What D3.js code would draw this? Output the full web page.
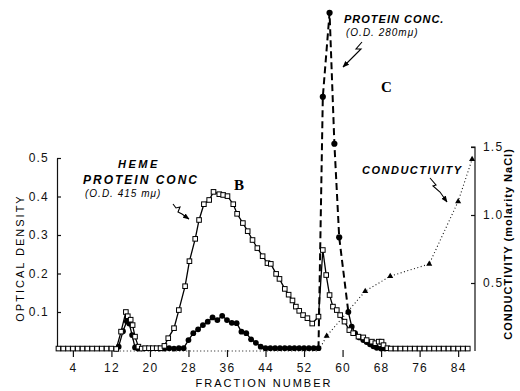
<!DOCTYPE html>
<html><head><meta charset="utf-8">
<script src="https://cdn.jsdelivr.net/npm/d3@7"></script>
<style>body{margin:0;background:#fff} svg{display:block}</style>
</head><body><svg id="c" width="520" height="391"></svg>
<script>
// ---- data ----
const fractionTicks = [4, 12, 20, 28, 36, 44, 52, 60, 68, 76, 84];
const densityTicks = [0.1, 0.2, 0.3, 0.4, 0.5];
const conductivityTicks = [0.5, 1.0, 1.5];

// Heme protein (O.D. 415 mμ) – open squares
const hemeFrac = [1,2,3,4,5,6,7,8,9,10,11,12,13,14,15,15.4,16,16.4,16.9,17.6,18.3,19,19.8,20.6,21.4,22.2,23,23.8,25,26,27.3,28.2,29.4,30.2,31.2,32.3,33.2,34.4,35.2,36.1,37.3,38.1,39.3,40.3,41.3,42.3,43.4,44.4,45.1,46.2,46.9,48,48.8,49.6,50.3,51,51.8,52.7,53.7,55,55.9,56.6,57.3,58,58.8,59.5,60.4,61.4,62.2,63.3,64.3,65,66.1,66.8,67.5,68.1,68.5,69.3,70,71,72,73,74,75,76,77,78,79,80,81,82,83,84,85,86];
const hemeOD   = [0.005,0.005,0.005,0.005,0.005,0.005,0.005,0.005,0.005,0.005,0.005,0.005,0.004,0.049,0.1,0.089,0.08,0.066,0.036,0.01,0.005,0.006,0.006,0.006,0.006,0.006,0.012,0.032,0.058,0.105,0.167,0.232,0.29,0.339,0.38,0.391,0.412,0.406,0.404,0.401,0.38,0.355,0.331,0.31,0.287,0.266,0.245,0.227,0.225,0.199,0.186,0.16,0.145,0.13,0.114,0.103,0.092,0.084,0.07,0.088,0.261,0.196,0.144,0.114,0.105,0.092,0.075,0.053,0.045,0.036,0.034,0.027,0.023,0.019,0.023,0.023,0.014,0.006,0.005,0.005,0.005,0.005,0.005,0.005,0.005,0.005,0.005,0.005,0.005,0.005,0.005,0.005,0.005,0.005,0.005];

// Protein (O.D. 280 mμ) – filled circles
const proteinFrac1 = [13.5,14.4,15.2,15.7,16.3,16.9,17.5];
const proteinOD1   = [0.01,0.05,0.076,0.07,0.04,0.008,0.005];
const proteinFrac2 = [22,23,24,25,26,27,28,29,30,31,32,33,34,35,36,37,38,39,40,41,42,43,44,45,46,47,48,49,50,51,52,53,54,55];
const proteinOD2   = [0.005,0.005,0.006,0.005,0.006,0.006,0.027,0.045,0.055,0.066,0.075,0.086,0.079,0.09,0.079,0.072,0.071,0.049,0.045,0.029,0.02,0.01,0.006,0.006,0.006,0.006,0.006,0.006,0.006,0.006,0.006,0.006,0.006,0.006];
const proteinFrac3 = [55,55.9,57.3,58.3,59.3,61.2];
const proteinOD3   = [0.006,0.659,0.877,0.537,0.294,0.10];
const proteinFrac4 = [61.2,61.9,62.6,63.5,64.3,65,65.7,66.4,67.1,68,68.8];
const proteinOD4   = [0.10,0.062,0.045,0.034,0.027,0.022,0.016,0.011,0.007,0.005,0.005];

// Conductivity (molarity NaCl) – triangles, dotted
const condFrac = [13,55,56.7,64.7,69.9,78,84,86.9];
const condM    = [0,0,0.11,0.44,0.55,0.64,1.10,1.41];

// ---- drawing ----
const svg = d3.select("#c");
const x = d3.scaleLinear().domain([0.7, 87.5]).range([57, 475]);
const yL = d3.scaleLinear().domain([0, 0.5]).range([350.5, 158]);
const yR = d3.scaleLinear().domain([0, 1.5]).range([351, 147]);
const font = "'Liberation Sans', Arial, sans-serif";

svg.append("defs").append("marker").attr("id","ah").attr("viewBox","0 0 10 10")
  .attr("refX",9).attr("refY",5).attr("markerWidth",6).attr("markerHeight",6).attr("orient","auto")
  .append("path").attr("d","M0,1 L10,5 L0,9 Z").attr("fill","#000");

const gL = svg.append("g").attr("transform","translate(57,0)")
  .call(d3.axisLeft(yL).tickValues(densityTicks).tickSizeInner(-4).tickSizeOuter(0).tickPadding(8).tickFormat(d3.format(".1f")));
const gR = svg.append("g").attr("transform","translate(475,0)")
  .call(d3.axisRight(yR).tickValues(conductivityTicks).tickSizeInner(-4).tickSizeOuter(0).tickPadding(8).tickFormat(d3.format(".1f")));
gR.select(".domain").attr("d", `M-4,${yR(1.5)}H0V${yR(0)}`);
const gB = svg.append("g").attr("transform","translate(0,350)")
  .call(d3.axisBottom(x).tickValues(fractionTicks).tickSize(7).tickPadding(6));
gB.select(".domain").remove();
[gL,gR,gB].forEach(g=>{
  g.selectAll("text").attr("font-family",font).attr("font-size",12).attr("letter-spacing","1.2px").attr("fill","#111");
  g.selectAll("line,path").attr("stroke","#111").attr("stroke-width",1.2);
});

svg.append("path").datum(condFrac.map((f,i)=>[f,condM[i]]))
  .attr("fill","none").attr("stroke","#111").attr("stroke-width",1.1).attr("stroke-dasharray","1,2.5")
  .attr("d", d3.line().x(d=>x(d[0])).y(d=>yR(d[1])));
svg.append("g").selectAll("path").data(condFrac.map((f,i)=>[f,condM[i]]).filter(d=>d[1]>0))
  .join("path").attr("d", d3.symbol(d3.symbolTriangle, 16))
  .attr("transform", d=>`translate(${x(d[0])},${yR(d[1])})`).attr("fill","#000");

const lineL = d3.line().x(d=>x(d[0])).y(d=>yL(d[1]));
function protSeg(fr, od, dashed){
  const pts = fr.map((f,i)=>[f,od[i]]);
  svg.append("path").datum(pts).attr("fill","none").attr("stroke","#000")
    .attr("stroke-width", dashed?2:1.3).attr("stroke-dasharray", dashed?"7,4":null).attr("d", lineL);
  return pts;
}
const p1 = protSeg(proteinFrac1, proteinOD1, false);
const p2 = protSeg(proteinFrac2, proteinOD2, false);
const p3 = protSeg(proteinFrac3, proteinOD3, true);
const p4 = protSeg(proteinFrac4, proteinOD4, false);
svg.append("g").selectAll("circle").data(p1.concat(p2, p3.slice(1), p4.slice(1)))
  .join("circle").attr("cx", d=>x(d[0])).attr("cy", d=>yL(d[1])).attr("r", d=>d[1]>0.2?3.1:2.9).attr("fill","#000");

const hemePts = hemeFrac.map((f,i)=>[f,hemeOD[i]]);
svg.append("path").datum(hemePts).attr("fill","none").attr("stroke","#000").attr("stroke-width",1.3).attr("d", lineL);
svg.append("g").selectAll("rect").data(hemePts).join("rect")
  .attr("x", d=>x(d[0])-2.3).attr("y", d=>yL(d[1])-2.3).attr("width",4.6).attr("height",4.6)
  .attr("fill","#fff").attr("stroke","#000").attr("stroke-width",1);

svg.append("text").attr("transform","translate(24,258) rotate(-90)").attr("text-anchor","middle")
  .attr("font-family",font).attr("font-size",11).attr("letter-spacing","2px").text("OPTICAL DENSITY");
svg.append("text").attr("transform","translate(512,244) rotate(-90)").attr("text-anchor","middle")
  .attr("font-family",font).attr("font-size",11).attr("font-weight","bold").attr("letter-spacing","1px").text("CONDUCTIVITY (molarity NaCl)");
svg.append("text").attr("x",264).attr("y",387).attr("text-anchor","middle")
  .attr("font-family",font).attr("font-size",11).attr("letter-spacing","2px").text("FRACTION NUMBER");

function ann(t,xx,yy,size,opts={}){
  return svg.append("text").attr("x",xx).attr("y",yy).attr("font-family",opts.serif?"'Liberation Serif', serif":font)
    .attr("font-size",size).attr("font-style",opts.italic?"italic":"normal").attr("font-weight",opts.bold?"bold":"normal")
    .attr("letter-spacing",opts.ls||"0px").attr("text-anchor",opts.anchor||"start").text(t);
}
ann("HEME",118,168,11,{italic:true,bold:true,ls:"2.5px"});
ann("PROTEIN CONC",83,184,12,{italic:true,bold:true,ls:"2px"});
ann("(O.D. 415 mμ)",85,197,10,{italic:true,ls:"1px"});
ann("B",234,190,15,{serif:true,bold:true});
ann("PROTEIN CONC.",344,23,11,{italic:true,bold:true,ls:"1px"});
ann("(O.D. 280mμ)",346,36,10,{italic:true,ls:"1px"});
ann("C",381,92,15,{serif:true,bold:true});
ann("CONDUCTIVITY",362,174,11,{italic:true,bold:true,ls:"1.5px"});

const sq = [
  "M173,204 L176,208 L180,207 L178,212 L182,214 L189,219",
  "M362,42 L356,49 L361,49 L354,56 L343,67",
  "M430,178 L436,185 L433,186 L440,192 L447,202"
];
svg.append("g").selectAll("path").data(sq).join("path").attr("d",d=>d).attr("fill","none")
  .attr("stroke","#000").attr("stroke-width",1.1).attr("marker-end","url(#ah)");
</script>
</body></html>
